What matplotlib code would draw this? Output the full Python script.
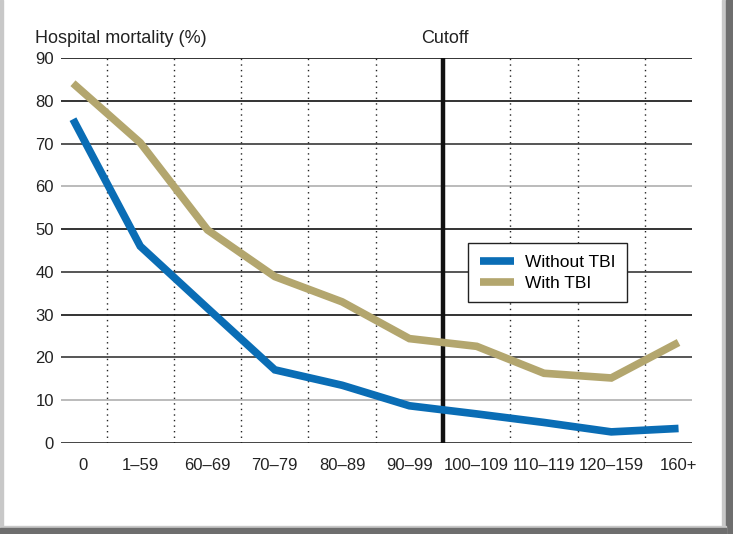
import matplotlib
matplotlib.use("Agg")
import matplotlib.pyplot as plt
from matplotlib.patches import Rectangle

categories = ["0", "1–59", "60–69", "70–79", "80–89", "90–99",
              "100–109", "110–119", "120–159", "160+"]
without_tbi = [75.7, 46.0, 31.5, 17.1, 13.5, 8.7, 6.8, 4.8, 2.6, 3.4]
with_tbi = [84.1, 70.2, 49.8, 38.9, 33.0, 24.4, 22.6, 16.3, 15.2, 23.5]
y_ticks = [0, 10, 20, 30, 40, 50, 60, 70, 80, 90]
cutoff_pos = 5.5

plt.rcParams['font.family'] = ['Liberation Sans', 'DejaVu Sans']

fig = plt.figure(figsize=(7.33, 5.34), dpi=100)
ax = fig.add_axes([61/733, 91/534, 631/733, 385/534])

x = list(range(len(categories)))

grid_colors = {0: '#444444', 10: '#bbbbbb', 20: '#555555', 30: '#333333',
               40: '#555555', 50: '#333333', 60: '#bbbbbb', 70: '#555555',
               80: '#333333', 90: '#333333'}
for yt in y_ticks:
    ax.axhline(yt, color=grid_colors[yt], lw=1.4, zorder=1)

for i in range(len(categories) - 1):
    xv = i + 0.5
    if abs(xv - cutoff_pos) < 1e-9:
        continue
    ax.axvline(xv, color='#222222', lw=1.0, ls=(0, (1, 3)), zorder=1)

ax.axvline(cutoff_pos, color='#111111', lw=3.2, zorder=2)

ax.plot(x, without_tbi, color='#0a6db5', lw=5.5, label='Without TBI',
        zorder=3, solid_joinstyle='miter', solid_capstyle='butt')
ax.plot(x, with_tbi, color='#b3a66e', lw=5.5, label='With TBI',
        zorder=3, solid_joinstyle='miter', solid_capstyle='butt')

ax.set_xlim(-0.178, 9.2)
ax.set_ylim(0, 90)
for s in ax.spines.values():
    s.set_visible(False)

ax.set_yticks(y_ticks)
ax.set_yticklabels([str(v) for v in y_ticks], fontsize=12, color='#222222')
# first category label sits a little right of its point in the reference
tick_pos = [i + (0.15 if i == 0 else 0.0) for i in x]
ax.set_xticks(tick_pos)
ax.set_xticklabels(categories, fontsize=12, color='#222222')
ax.tick_params(axis='y', length=0, pad=5)
ax.tick_params(axis='x', length=0, pad=11)

ax.text(-0.56, 92.5, "Hospital mortality (%)", fontsize=13, color='#222222',
        ha='left', va='bottom', clip_on=False)
ax.text(cutoff_pos + 0.03, 92.5, "Cutoff", fontsize=13, color='#222222',
        ha='center', va='bottom', clip_on=False)

leg = ax.legend(loc='upper left', bbox_to_anchor=(0.632, 0.541), fontsize=12.5,
                frameon=True, fancybox=False, framealpha=1, edgecolor='#222222',
                handlelength=2.0, handletextpad=0.6, borderpad=0.65,
                labelspacing=0.35)
leg.get_frame().set_linewidth(1.0)
leg.set_zorder(5)

# window frame
fig.patches.append(Rectangle((0, 0), 3/733, 1, transform=fig.transFigure,
                             color='#c8c8c8', zorder=0))
fig.patches.append(Rectangle((722/733, 0), 4/733, 1, transform=fig.transFigure,
                             color='#c8c8c8', zorder=0))
fig.patches.append(Rectangle((726/733, 0), 7/733, 1, transform=fig.transFigure,
                             color='#6e6e6e', zorder=0))
fig.patches.append(Rectangle((0, 0), 726/733, 8/534, transform=fig.transFigure,
                             color='#c8c8c8', zorder=0))
fig.patches.append(Rectangle((0, 0), 726/733, 6/534, transform=fig.transFigure,
                             color='#6e6e6e', zorder=0))

fig.savefig("out.png", dpi=100)
